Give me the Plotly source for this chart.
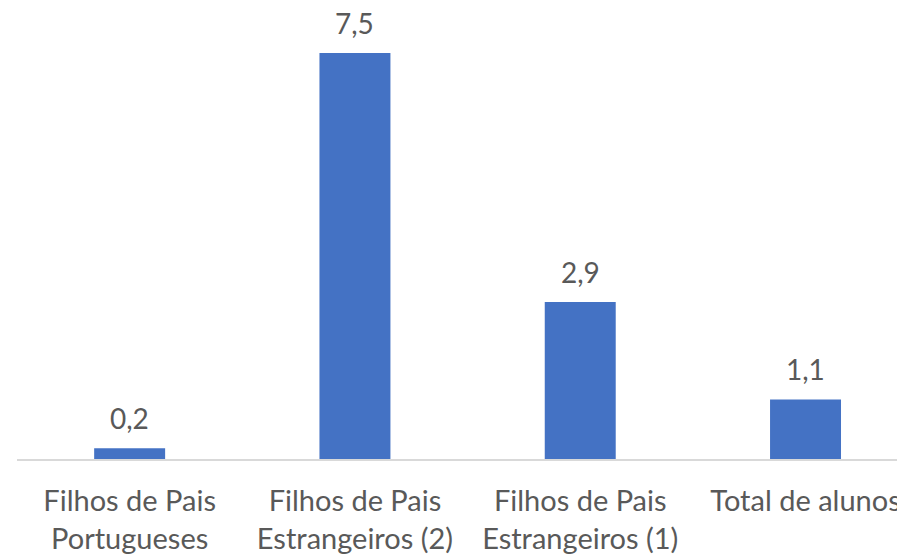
import plotly.graph_objects as go

categories = ["Filhos de Pais<br>Portugueses", "Filhos de Pais<br>Estrangeiros (2)",
              "Filhos de Pais<br>Estrangeiros (1)", "Total de alunos"]
values = [0.2, 7.5, 2.9, 1.1]
labels = [f"{v:.1f}".replace(".", ",") for v in values]

FONT = "Lato"
GRAY = "#595959"
BLUE = "#4472C4"

x = list(range(len(categories)))
fig = go.Figure(go.Bar(x=x, y=values, marker_color=BLUE, width=0.315,
                       marker_line_width=0, hoverinfo="skip"))

for xi, v, t in zip(x, values, labels):
    fig.add_annotation(x=xi, y=v, text=t, showarrow=False, yanchor="bottom",
                       yshift=11, font=dict(family=FONT, size=28, color=GRAY))

fig.update_layout(
    width=897, height=554,
    margin=dict(l=17, r=0, t=0, b=95, autoexpand=False),
    plot_bgcolor="white", paper_bgcolor="white",
    showlegend=False,
    xaxis=dict(tickmode="array", tickvals=x, ticktext=categories,
               range=[-0.5, 3.406], showline=True, linecolor="#D9D9D9", linewidth=2,
               showgrid=False, zeroline=False, ticks="", automargin=False,
               tickfont=dict(family=FONT, size=29, color=GRAY), tickangle=0,
               ticklabelstandoff=15, ticklabeloverflow="allow"),
    yaxis=dict(range=[0, 459 / 54.13], visible=False, showgrid=False,
               zeroline=False, automargin=False),
)

fig.write_html("out.html", config={"displayModeBar": False},
               post_script="document.body.style.margin='0';document.body.style.overflow='hidden';")
